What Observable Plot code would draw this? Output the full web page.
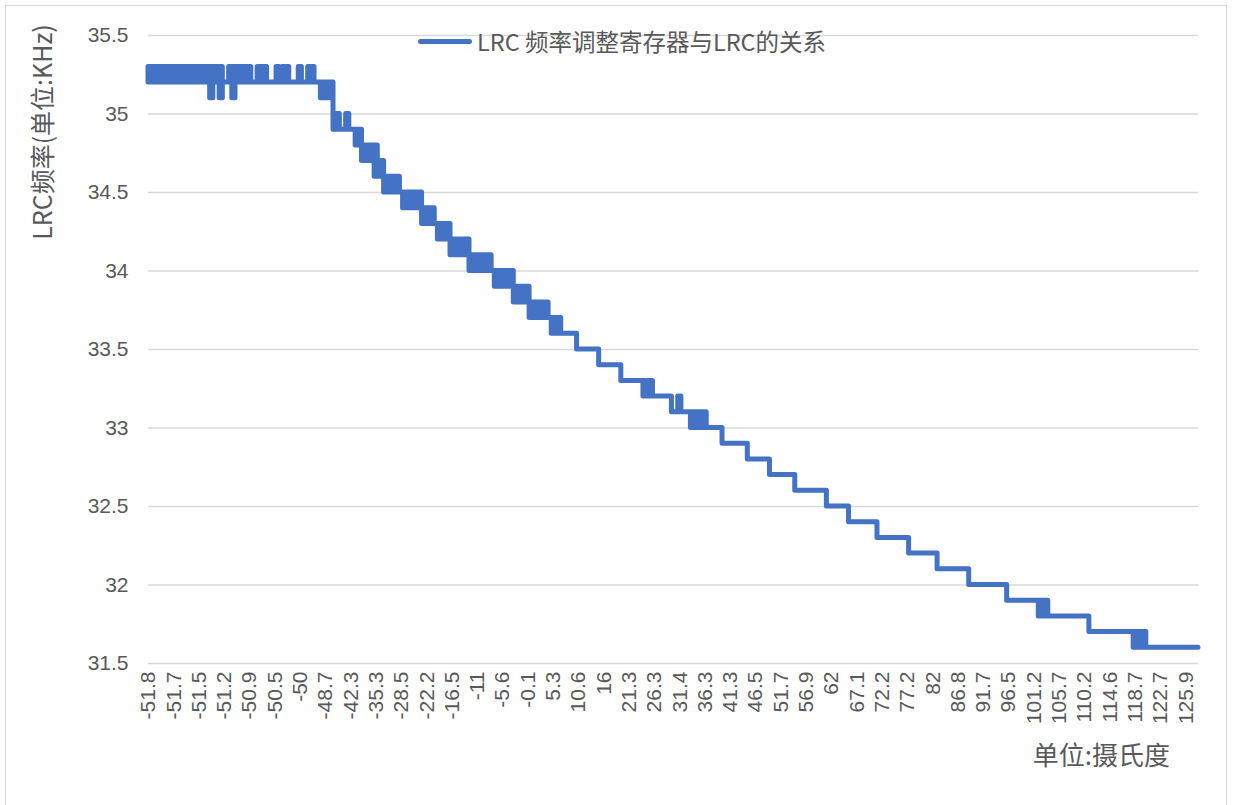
<!DOCTYPE html>
<html>
<head>
<meta charset="utf-8">
<script src="https://cdn.jsdelivr.net/npm/d3@7"></script>
<script src="https://cdn.jsdelivr.net/npm/@observablehq/plot@0.6"></script>
<style>
  html, body { margin: 0; padding: 0; background: #fff; }
  #wrap { position: relative; width: 1234px; height: 805px; overflow: hidden; background: #fff; }
  #frame { position: absolute; left: 5px; top: 5px; width: 1222px; height: 830px; border: 1.5px solid #d9d9d9; box-sizing: border-box; pointer-events: none; }
  #legend { position: absolute; left: 418px; top: 24px; height: 34px; display: flex; align-items: center;
            font-family: "Noto Sans CJK SC", sans-serif; font-size: 23.5px; color: #595959; white-space: nowrap; }
  #legend .sw { width: 54px; height: 5px; background: #4472C4; border-radius: 3px; margin-right: 5px; }
  #wrap svg { position: absolute; left: 0; top: 0; }
</style>
</head>
<body>
<div id="wrap">
  <div id="frame"></div>
</div>
<script>
// X category labels (every 8th sample is labelled on the axis)
const xLabels = ["-51.8","-51.7","-51.5","-51.2","-50.9","-50.5","-50","-48.7","-42.3","-35.3",
  "-28.5","-22.2","-16.5","-11","-5.6","-0.1","5.3","10.6","16","21.3",
  "26.3","31.4","36.3","41.3","46.5","51.7","56.9","62","67.1","72.2",
  "77.2","82","86.8","91.7","96.5","101.2","105.7","110.2","114.6","118.7",
  "122.7","125.9"];
const labelEvery = 8;

// LRC frequency (kHz) per sample: highest reading in the sample ...
const freqHigh = [
  35.3,35.3,35.3,35.3,35.3,35.3,35.3,35.3,35.3,35.3,
  35.3,35.3,35.3,35.3,35.3,35.3,35.3,35.3,35.3,35.3,
  35.3,35.3,35.3,35.3,35.2,35.2,35.3,35.3,35.3,35.3,
  35.3,35.3,35.3,35.2,35.2,35.3,35.3,35.3,35.2,35.2,
  35.2,35.3,35.2,35.3,35.3,35.2,35.2,35.2,35.3,35.2,
  35.2,35.3,35.3,35.2,35.2,35.2,35.2,35.2,35.2,34.9,
  35.0,34.9,34.9,35.0,34.9,34.9,34.9,34.9,34.8,34.8,
  34.8,34.8,34.8,34.7,34.7,34.6,34.6,34.6,34.6,34.6,
  34.5,34.5,34.5,34.5,34.5,34.5,34.5,34.4,34.4,34.4,
  34.4,34.3,34.3,34.3,34.3,34.3,34.2,34.2,34.2,34.2,
  34.2,34.2,34.1,34.1,34.1,34.1,34.1,34.1,34.1,34.0,
  34.0,34.0,34.0,34.0,34.0,34.0,33.9,33.9,33.9,33.9,
  33.9,33.8,33.8,33.8,33.8,33.8,33.8,33.7,33.7,33.7,
  33.7,33.6,33.6,33.6,33.6,33.6,33.5,33.5,33.5,33.5,
  33.5,33.5,33.5,33.4,33.4,33.4,33.4,33.4,33.4,33.4,
  33.3,33.3,33.3,33.3,33.3,33.3,33.3,33.3,33.3,33.3,
  33.2,33.2,33.2,33.2,33.2,33.2,33.1,33.1,33.2,33.1,
  33.1,33.1,33.1,33.1,33.1,33.1,33.1,33.0,33.0,33.0,
  33.0,33.0,32.9,32.9,32.9,32.9,32.9,32.9,32.9,32.9,
  32.8,32.8,32.8,32.8,32.8,32.8,32.8,32.7,32.7,32.7,
  32.7,32.7,32.7,32.7,32.7,32.6,32.6,32.6,32.6,32.6,
  32.6,32.6,32.6,32.6,32.6,32.5,32.5,32.5,32.5,32.5,
  32.5,32.5,32.4,32.4,32.4,32.4,32.4,32.4,32.4,32.4,
  32.4,32.3,32.3,32.3,32.3,32.3,32.3,32.3,32.3,32.3,
  32.3,32.2,32.2,32.2,32.2,32.2,32.2,32.2,32.2,32.2,
  32.1,32.1,32.1,32.1,32.1,32.1,32.1,32.1,32.1,32.1,
  32.0,32.0,32.0,32.0,32.0,32.0,32.0,32.0,32.0,32.0,
  32.0,32.0,31.9,31.9,31.9,31.9,31.9,31.9,31.9,31.9,
  31.9,31.9,31.9,31.9,31.9,31.8,31.8,31.8,31.8,31.8,
  31.8,31.8,31.8,31.8,31.8,31.8,31.8,31.8,31.7,31.7,
  31.7,31.7,31.7,31.7,31.7,31.7,31.7,31.7,31.7,31.7,
  31.7,31.7,31.7,31.7,31.7,31.7,31.6,31.6,31.6,31.6,
  31.6,31.6,31.6,31.6,31.6,31.6,31.6,31.6,31.6,31.6,
  31.6,31.6,31.6
];
// ... and lowest reading in the sample
const freqLow = [
  35.2,35.2,35.2,35.2,35.2,35.2,35.2,35.2,35.2,35.2,
  35.2,35.2,35.2,35.2,35.2,35.2,35.2,35.2,35.2,35.2,
  35.1,35.2,35.2,35.1,35.2,35.2,35.2,35.1,35.2,35.2,
  35.2,35.2,35.2,35.2,35.2,35.2,35.2,35.2,35.2,35.2,
  35.2,35.2,35.2,35.2,35.2,35.2,35.2,35.2,35.2,35.2,
  35.2,35.2,35.2,35.2,35.2,35.1,35.1,35.1,35.1,34.9,
  34.9,34.9,34.9,34.9,34.9,34.9,34.8,34.8,34.7,34.7,
  34.7,34.7,34.6,34.6,34.6,34.5,34.5,34.5,34.5,34.5,
  34.5,34.4,34.4,34.4,34.4,34.4,34.4,34.3,34.3,34.3,
  34.3,34.3,34.2,34.2,34.2,34.2,34.1,34.1,34.1,34.1,
  34.1,34.1,34.0,34.0,34.0,34.0,34.0,34.0,34.0,34.0,
  33.9,33.9,33.9,33.9,33.9,33.9,33.8,33.8,33.8,33.8,
  33.8,33.7,33.7,33.7,33.7,33.7,33.7,33.7,33.6,33.6,
  33.6,33.6,33.6,33.6,33.6,33.6,33.5,33.5,33.5,33.5,
  33.5,33.5,33.5,33.4,33.4,33.4,33.4,33.4,33.4,33.4,
  33.3,33.3,33.3,33.3,33.3,33.3,33.3,33.2,33.2,33.2,
  33.2,33.2,33.2,33.2,33.2,33.2,33.1,33.1,33.1,33.1,
  33.1,33.1,33.0,33.0,33.0,33.0,33.0,33.0,33.0,33.0,
  33.0,33.0,32.9,32.9,32.9,32.9,32.9,32.9,32.9,32.9,
  32.8,32.8,32.8,32.8,32.8,32.8,32.8,32.7,32.7,32.7,
  32.7,32.7,32.7,32.7,32.7,32.6,32.6,32.6,32.6,32.6,
  32.6,32.6,32.6,32.6,32.6,32.5,32.5,32.5,32.5,32.5,
  32.5,32.5,32.4,32.4,32.4,32.4,32.4,32.4,32.4,32.4,
  32.4,32.3,32.3,32.3,32.3,32.3,32.3,32.3,32.3,32.3,
  32.3,32.2,32.2,32.2,32.2,32.2,32.2,32.2,32.2,32.2,
  32.1,32.1,32.1,32.1,32.1,32.1,32.1,32.1,32.1,32.1,
  32.0,32.0,32.0,32.0,32.0,32.0,32.0,32.0,32.0,32.0,
  32.0,32.0,31.9,31.9,31.9,31.9,31.9,31.9,31.9,31.9,
  31.9,31.9,31.8,31.8,31.8,31.8,31.8,31.8,31.8,31.8,
  31.8,31.8,31.8,31.8,31.8,31.8,31.8,31.8,31.7,31.7,
  31.7,31.7,31.7,31.7,31.7,31.7,31.7,31.7,31.7,31.7,
  31.7,31.7,31.6,31.6,31.6,31.6,31.6,31.6,31.6,31.6,
  31.6,31.6,31.6,31.6,31.6,31.6,31.6,31.6,31.6,31.6,
  31.6,31.6,31.6
];

const yTicks = [31.5, 32, 32.5, 33, 33.5, 34, 34.5, 35, 35.5];
const seriesName = "LRC 频率调整寄存器与LRC的关系";
const yTitle = "LRC频率(单位:KHz)";
const xTitle = "单位:摄氏度";

const data = freqHigh.map((hi, i) => ({i, hi, lo: freqLow[i]}));
const tickIdx = xLabels.map((_, j) => j * labelEvery);

const svg = Plot.plot({
  width: 1234,
  height: 805,
  marginLeft: 148,
  marginRight: 36,
  marginTop: 35,
  marginBottom: 142,
  style: {fontFamily: '"Liberation Sans", Arial, sans-serif', fontSize: "21px", color: "#595959", background: "transparent"},
  x: {type: "linear", domain: [0, freqHigh.length - 1]},
  y: {domain: [31.5, 35.5]},
  marks: [
    Plot.gridY(yTicks, {stroke: "#d9d9d9", strokeOpacity: 1, strokeWidth: 1.5}),
    Plot.areaY(data, {x: "i", y1: "lo", y2: "hi", curve: "step", fill: "#4472C4", stroke: "#4472C4",
      strokeWidth: 5, strokeLinejoin: "round", strokeLinecap: "round"}),
    Plot.axisY(yTicks, {tickSize: 0, tickPadding: 20, label: null, fontSize: 21, tickFormat: (d) => String(d)}),
    Plot.axisX(tickIdx, {tickSize: 0, tickPadding: 8, tickRotate: -90, label: null, fontSize: 21,
      tickFormat: (d) => xLabels[d / labelEvery]})
  ]
});

const wrap = document.getElementById("wrap");
wrap.insertBefore(svg, wrap.firstChild);

const s = d3.select(svg);
s.append("text")
  .attr("transform", "translate(41,132) rotate(-90)")
  .attr("text-anchor", "middle")
  .attr("dominant-baseline", "central")
  .style("font-family", '"Noto Sans CJK SC", sans-serif')
  .style("font-size", "25px")
  .attr("fill", "#595959")
  .text(yTitle);
s.append("text")
  .attr("x", 1170)
  .attr("y", 753)
  .attr("text-anchor", "end")
  .attr("dominant-baseline", "central")
  .style("font-family", '"Noto Sans CJK SC", sans-serif')
  .style("font-size", "26px")
  .attr("fill", "#595959")
  .text(xTitle);

const legend = document.createElement("div");
legend.id = "legend";
const sw = document.createElement("span");
sw.className = "sw";
const lt = document.createElement("span");
lt.textContent = seriesName;
legend.appendChild(sw);
legend.appendChild(lt);
wrap.appendChild(legend);
</script>
</body>
</html>
